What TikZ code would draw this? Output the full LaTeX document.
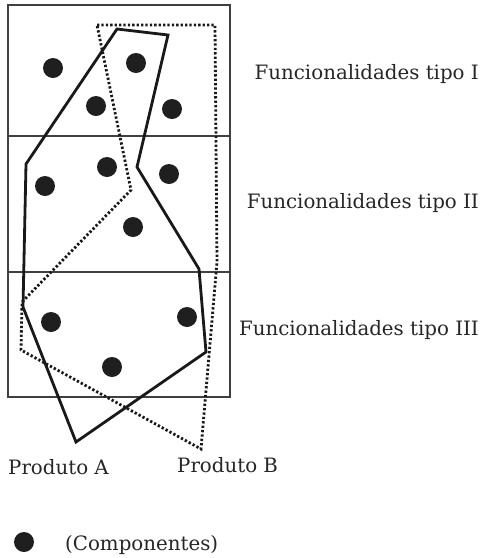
\documentclass[tikz,border=0pt]{standalone}
\usepackage{fontspec}
\setmainfont{DejaVu Serif}
\begin{document}
\begin{tikzpicture}[x=1pt,y=-1pt,
  frame/.style={line width=1.4pt,draw=black!75},
  prodA/.style={line width=2.8pt,draw=black!90,line join=miter},
  prodB/.style={line width=2.8pt,draw=black!90,dash pattern=on 2.3pt off 2.1pt},
  comp/.style={circle,fill=black!88,minimum size=20pt,inner sep=0pt},
  lbl/.style={font=\fontsize{19.8}{24}\selectfont,text=black!85,inner sep=0pt}]
\useasboundingbox (0,0) rectangle (488,558);
% frame
\draw[frame] (8,5) rectangle (230,397);
\draw[frame] (8,136) -- (230,136);
\draw[frame] (8,272) -- (230,272);
% product B (dotted)
\draw[prodB] (97,25) -- (215,25) -- (217,262) -- (201,449) -- (21,350) -- (22,302) -- (131,190) -- cycle;
% product A (solid)
\draw[prodA] (117,29) -- (168,35) -- (137,167) -- (199,269) -- (206,352) -- (76,442) -- (23,307) -- (26,164) -- cycle;
% components
\node[comp] (c1) at (53,68) {};
\node[comp] (c2) at (136,63) {};
\node[comp] (c3) at (96,106) {};
\node[comp] (c4) at (172,109) {};
\node[comp] (c5) at (107,167) {};
\node[comp] (c6) at (169,174) {};
\node[comp] (c7) at (45,186) {};
\node[comp] (c8) at (133,227) {};
\node[comp] (c9) at (51,322) {};
\node[comp] (c10) at (187,317) {};
\node[comp] (c11) at (112,367) {};
% labels
\node[lbl,anchor=east] (f1) at (479,74) {Funcionalidades tipo I};
\node[lbl,anchor=east] (f2) at (479,203) {Funcionalidades tipo II};
\node[lbl,anchor=east] (f3) at (479,330) {Funcionalidades tipo III};
\node[lbl,anchor=west] (pa) at (8,467) {Produto A};
\node[lbl,anchor=west] (pb) at (177,465) {Produto B};
\node[comp] (leg) at (24,542) {};
\node[lbl,anchor=west] (lt) at (65,545) {(Componentes)};
\end{tikzpicture}
\end{document}
